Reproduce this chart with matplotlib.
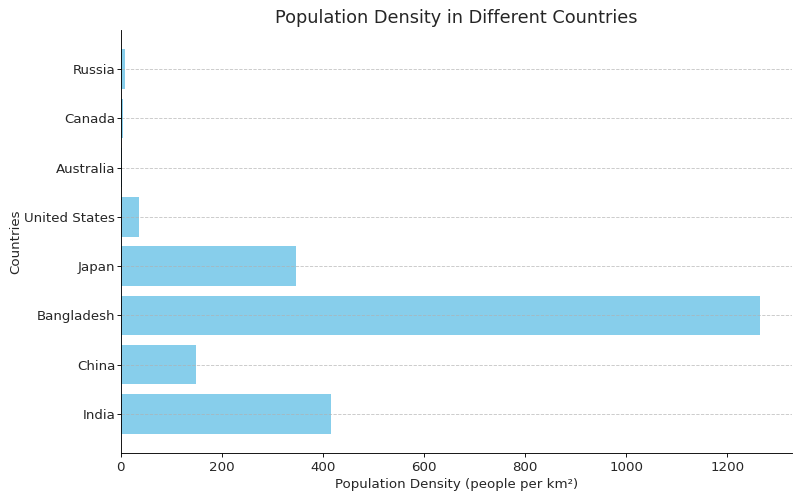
import matplotlib.pyplot as plt

countries = ['India', 'China', 'Bangladesh', 'Japan', 'United States', 'Australia', 'Canada', 'Russia']
density = [416, 148, 1265, 347, 36, 3, 4, 9]

fig, ax = plt.subplots(figsize=(10, 6.25), dpi=80)
ax.barh(countries, density, color='skyblue')
ax.set_title('Population Density in Different Countries', fontsize=16, color='#262626')
ax.set_xlabel('Population Density (people per km²)', fontsize=12, color='#262626')
ax.set_ylabel('Countries', fontsize=12, color='#262626', labelpad=2)
ax.tick_params(labelsize=12, labelcolor='#262626')
ax.tick_params(axis='y', pad=1.5)
ax.grid(axis='y', linestyle='--', alpha=0.7)
ax.spines['top'].set_visible(False)
ax.spines['right'].set_visible(False)
plt.subplots_adjust(left=0.151, right=0.99, top=0.94, bottom=0.094)
plt.savefig('out.png')
